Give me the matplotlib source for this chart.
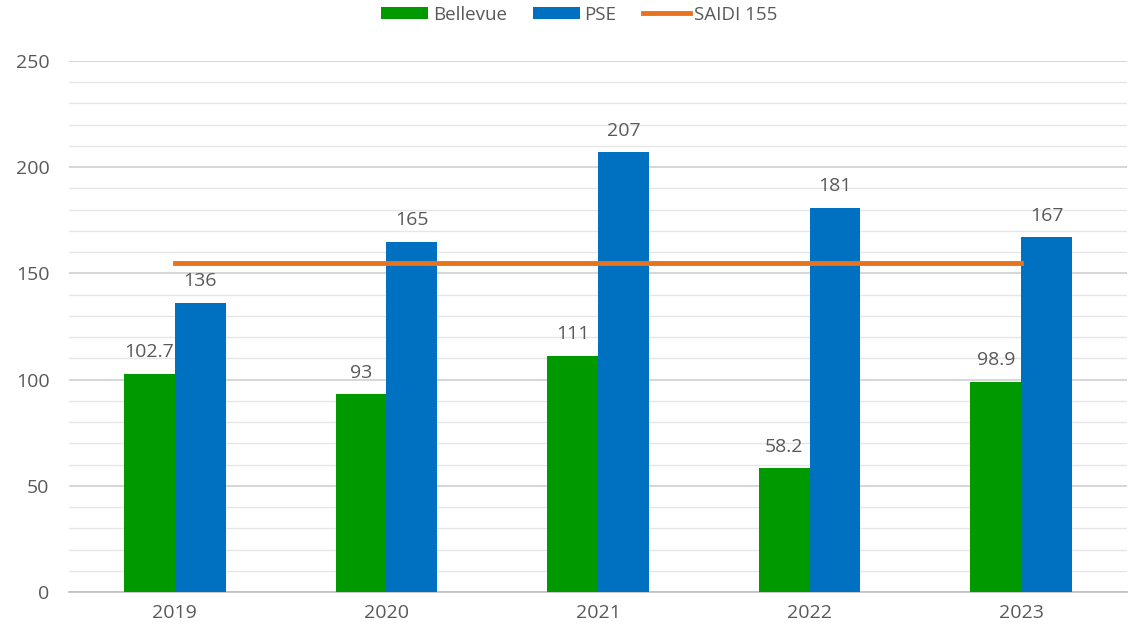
import matplotlib.pyplot as plt
import numpy as np
from matplotlib.patches import Patch
from matplotlib.lines import Line2D

years = ["2019", "2020", "2021", "2022", "2023"]
bellevue = [102.7, 93, 111, 58.2, 98.9]
pse = [136, 165, 207, 181, 167]
bellevue_labels = ["102.7", "93", "111", "58.2", "98.9"]
pse_labels = ["136", "165", "207", "181", "167"]
saidi = 155

plt.rcParams["font.family"] = ["Open Sans", "DejaVu Sans"]
text_color = "#595959"
green = "#009900"
blue = "#0070C0"
orange = "#E8731E"

fig = plt.figure(figsize=(11.34, 6.32), dpi=100)
ax = fig.add_axes([0.0608, 0.0633, 0.933, 0.8402])

x = np.arange(len(years))
w = 0.24
ax.bar(x - w / 2, bellevue, width=w, color=green, zorder=3)
ax.bar(x + w / 2, pse, width=w, color=blue, zorder=3)
# SAIDI reference line spans first to last category centre
ax.plot([x[0], x[-1]], [saidi, saidi], color=orange, linewidth=3.5, zorder=4)

for xi, v, lab in zip(x, bellevue, bellevue_labels):
    ax.text(xi - w / 2, v + 6, lab, ha="center", va="bottom", fontsize=14, color=text_color)
for xi, v, lab in zip(x, pse, pse_labels):
    ax.text(xi + w / 2, v + 6, lab, ha="center", va="bottom", fontsize=14, color=text_color)

ax.set_xlim(-0.5, len(years) - 0.5)
ax.set_ylim(0, 250)
ax.set_yticks(range(0, 251, 50))
ax.set_yticks(range(0, 251, 10), minor=True)
ax.set_xticks(x)
ax.set_xticklabels(years)
ax.tick_params(axis="both", which="both", length=0, labelsize=14, colors=text_color)
ax.tick_params(axis="y", pad=14)
ax.tick_params(axis="x", pad=9)
ax.grid(axis="y", which="major", color="#D0D0D0", linewidth=1.2, zorder=0)
ax.grid(axis="y", which="minor", color="#E6E6E6", linewidth=1.0, zorder=0)
for s in ["top", "right", "left"]:
    ax.spines[s].set_visible(False)
ax.spines["bottom"].set_color("#BFBFBF")
ax.spines["bottom"].set_linewidth(1.2)

handles = [
    Patch(facecolor=green, label="Bellevue"),
    Patch(facecolor=blue, label="PSE"),
    Line2D([0], [0], color=orange, linewidth=3.5, label="SAIDI 155"),
]
leg = fig.legend(handles=handles, loc="center", bbox_to_anchor=(0.511, 0.977), ncol=3,
                 frameon=False, fontsize=13.5, handlelength=2.5, handleheight=0.55,
                 columnspacing=1.4, handletextpad=0.25)
for t in leg.get_texts():
    t.set_color(text_color)

fig.savefig("out.png", dpi=100)
